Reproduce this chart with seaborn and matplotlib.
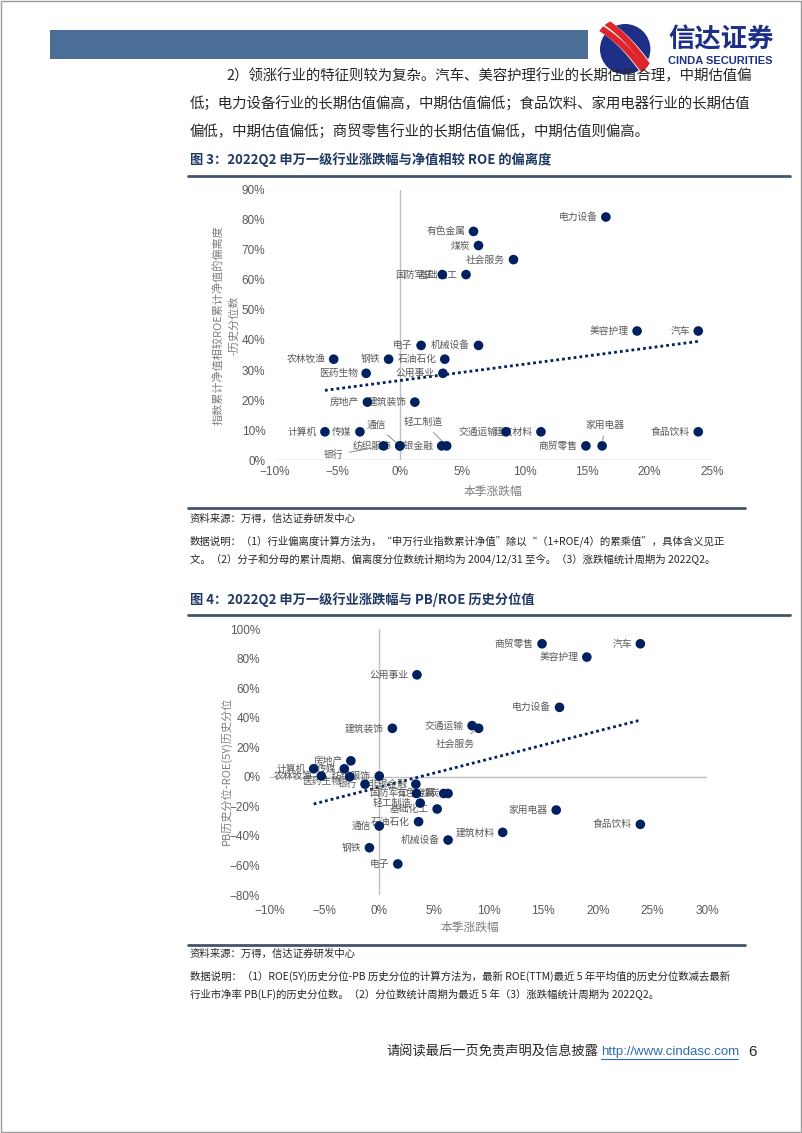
import numpy as np
import pandas as pd
import matplotlib
matplotlib.use("Agg")
import matplotlib.pyplot as plt
from matplotlib.patches import Rectangle, Circle
from matplotlib.ticker import FuncFormatter, MultipleLocator
import seaborn as sns

# industries (SW level-1) and values, in %
industries = ["电力设备", "有色金属", "煤炭", "社会服务", "国防军工", "基础化工",
              "美容护理", "汽车", "电子", "机械设备", "农林牧渔", "钢铁",
              "石油石化", "医药生物", "公用事业", "房地产", "建筑装饰", "计算机",
              "传媒", "交通运输", "建筑材料", "食品饮料", "纺织服饰", "通信",
              "银行", "非银金融", "轻工制造", "商贸零售", "家用电器"]
# 本季涨跌幅 (shared x of both charts)
ret = [16.5, 5.9, 6.3, 9.1, 3.4, 5.3,
       19.0, 23.9, 1.7, 6.3, -5.3, -0.9,
       3.6, -2.7, 3.45, -2.6, 1.2, -6.0,
       -3.2, 8.5, 11.3, 23.9, 0.0, 0.0,
       -1.3, 3.35, 3.75, 14.9, 16.2]
# 图3: 净值相较ROE的偏离度历史分位数
deviation = [81.0, 76.2, 71.5, 66.8, 61.8, 61.8,
             43.0, 43.0, 38.2, 38.2, 33.6, 33.6,
             33.6, 28.9, 28.9, 19.3, 19.3, 9.4,
             9.4, 9.4, 9.4, 9.4, 4.7, 4.7,
             4.7, 4.7, 4.7, 4.7, 4.7]
# 图4: PB历史分位-ROE(5Y)历史分位
pb_roe = [47.0, -11.3, -11.3, 32.8, -11.3, -21.8,
          81.0, 90.0, -59.0, -42.8, 0.5, -48.0,
          -30.4, 0.0, 69.0, 10.8, 32.8, 5.4,
          5.4, 34.6, -37.6, -32.2, 0.5, -33.3,
          -5.0, -5.0, -17.8, 90.0, -22.5]

df = pd.DataFrame({"name": industries, "ret": ret, "dev": deviation, "pbroe": pb_roe})

# labels that are not simply placed left of their marker (data coords)
moved1 = {"通信": (-1.9, 11.7), "轻工制造": (1.9, 12.6), "银行": (-5.3, 1.6),
          "家用电器": (16.4, 11.7)}
moved2 = {"社会服务": (7.0, 22.5), "医药生物": (-5.3, -3.0)}

W, H = 802, 1133
NAVY = "#002060"
GRAY = "#595959"
CJK = ["Noto Sans CJK SC", "DejaVu Sans"]
LAT = ["Liberation Sans", "Noto Sans CJK SC"]

sns.set_style("white")
plt.rcParams["font.family"] = CJK
plt.rcParams["axes.unicode_minus"] = True

fig = plt.figure(figsize=(W / 100, H / 100), dpi=100)


def px_axes(l, t, r, b):
    return fig.add_axes([l / W, 1 - b / H, (r - l) / W, (b - t) / H])


def ftext(x, y, s, **kw):
    return fig.text(x / W, 1 - y / H, s, **kw)


def hline(x0, x1, y, color="#44546A", lw=2.0):
    fig.add_artist(plt.Line2D([x0 / W, x1 / W], [1 - y / H, 1 - y / H],
                              color=color, lw=lw, transform=fig.transFigure))


# page frame
fig.add_artist(Rectangle((0.001, 0.001), 0.998, 0.998, transform=fig.transFigure,
                         fill=False, ec="#9A9A9A", lw=1))

# header bar + logo
fig.add_artist(Rectangle((50 / W, 1 - 59 / H), (588 - 50) / W, 29 / H,
                         transform=fig.transFigure, fc="#4B6E96", ec="none"))
lax = px_axes(594, 18, 654, 78)
lax.set_xlim(0, 1)
lax.set_ylim(0, 1)
lax.axis("off")
lax.add_patch(Circle((0.52, 0.48), 0.42, fc="#1D2F86", ec="none"))
clip = Circle((0.5, 0.5), 0.5, transform=lax.transData)
t = np.linspace(0, 1, 60)
for off, col, w in [(0.0, "white", 10), (-0.08, "#E0242B", 4.5), (0.08, "#E0242B", 4.5)]:
    xs = 0.05 + 0.9 * t
    ys = 0.95 - 0.9 * t + 0.1 * np.sin(np.pi * t) + off
    ln, = lax.plot(xs, ys, color=col, lw=w, solid_capstyle="butt")
    ln.set_clip_path(clip)
ftext(668, 40, "信达证券", fontsize=19, fontweight="bold", color="#1D2F86",
      va="center", ha="left")
ftext(668, 61, "CINDA SECURITIES", fontsize=8, fontweight="bold", color="#1D2F86",
      va="center", ha="left", family=LAT)

# body paragraph
para = ["2）领涨行业的特征则较为复杂。汽车、美容护理行业的长期估值合理，中期估值偏",
        "低；电力设备行业的长期估值偏高，中期估值偏低；食品饮料、家用电器行业的长期估值",
        "偏低，中期估值偏低；商贸零售行业的长期估值偏低，中期估值则偏高。"]
ftext(226, 76, para[0], fontsize=10.4, va="center")
ftext(190, 104, para[1], fontsize=10.4, va="center")
ftext(190, 132, para[2], fontsize=10.4, va="center")


def pct(v, pos):
    return f"{v:.0f}%".replace("-", "\u2212")


def draw_panel(ax, ycol, moved):
    sns.scatterplot(data=df, x="ret", y=ycol, ax=ax, color=NAVY, s=48,
                    edgecolor="none", zorder=3, legend=False)
    sns.regplot(data=df, x="ret", y=ycol, ax=ax, scatter=False, ci=None,
                line_kws=dict(color=NAVY, lw=2, ls=(0, (1, 1.1))))
    for _, r in df.iterrows():
        if r["name"] in moved:
            ax.annotate(r["name"], xy=(r["ret"], r[ycol]), xytext=moved[r["name"]],
                        textcoords="data", ha="center", va="center", fontsize=7,
                        color=GRAY, zorder=2,
                        arrowprops=dict(arrowstyle="-", color="#8C8C8C", lw=0.7,
                                        shrinkA=2, shrinkB=4))
        else:
            ax.annotate(r["name"], xy=(r["ret"], r[ycol]), xytext=(-6, 0),
                        textcoords="offset points", ha="right", va="center",
                        fontsize=7, color=GRAY, zorder=2)
    ax.set_xlabel("")
    ax.set_ylabel("")
    ax.xaxis.set_major_locator(MultipleLocator(5))
    ax.xaxis.set_major_formatter(FuncFormatter(pct))
    ax.yaxis.set_major_formatter(FuncFormatter(pct))
    ax.tick_params(length=0, labelsize=8.5, labelcolor=GRAY)
    for lab in ax.get_xticklabels() + ax.get_yticklabels():
        lab.set_family(LAT)
    for s in ax.spines.values():
        s.set_visible(False)
    ax.axvline(0, color="#BFBFBF", lw=1, zorder=1)
    ax.set_facecolor("none")


# ---- figure 3
ftext(190, 160, "图 3：2022Q2 申万一级行业涨跌幅与净值相较 ROE 的偏离度",
      fontsize=9.5, fontweight="bold", color="#1F3864", va="center")
hline(188, 790, 176)
ax1 = px_axes(275, 190, 712, 460)
draw_panel(ax1, "dev", moved1)
ax1.set_xlim(-10, 25)
ax1.set_ylim(0, 90)
ax1.yaxis.set_major_locator(MultipleLocator(10))
ax1.axhline(0, color="#BFBFBF", lw=1, zorder=1)
ax1.tick_params(axis="y", pad=7)
ax1.tick_params(axis="x", pad=4)
ftext(226, 325, "指数累计净值相较ROE累计净值的偏离度\n-历史分位数", rotation=90,
      fontsize=8, color="#7F7F7F", ha="center", va="center", multialignment="center",
      linespacing=1.6)
ftext(493, 491, "本季涨跌幅", fontsize=8.5, color="#7F7F7F", ha="center", va="center")
hline(188, 745, 508, lw=2)
ftext(190, 519, "资料来源：万得，信达证券研发中心", fontsize=7.5, color="#262626", va="center")
ftext(190, 541, "数据说明：（1）行业偏离度计算方法为，“申万行业指数累计净值”除以“（1+ROE/4）的累乘值”，具体含义见正",
      fontsize=7.5, color="#262626", va="center")
ftext(190, 559, "文。（2）分子和分母的累计周期、偏离度分位数统计期均为 2004/12/31 至今。（3）涨跌幅统计周期为 2022Q2。",
      fontsize=7.5, color="#262626", va="center")

# ---- figure 4
ftext(190, 600, "图 4：2022Q2 申万一级行业涨跌幅与 PB/ROE 历史分位值",
      fontsize=9.5, fontweight="bold", color="#1F3864", va="center")
hline(188, 790, 615)
ax2 = px_axes(270, 629, 707, 895)
draw_panel(ax2, "pbroe", moved2)
ax2.set_xlim(-10, 30)
ax2.set_ylim(-80, 100)
ax2.yaxis.set_major_locator(MultipleLocator(20))
ax2.axhline(0, color="#BFBFBF", lw=1, zorder=1)
ax2.tick_params(axis="y", pad=7)
ax2.tick_params(axis="x", pad=7)
ftext(226, 771, "PB历史分位-ROE(5Y)历史分位", rotation=90, fontsize=8, color="#7F7F7F",
      ha="center", va="center")
ftext(470, 927, "本季涨跌幅", fontsize=8.5, color="#7F7F7F", ha="center", va="center")
hline(188, 745, 945, lw=2)
ftext(190, 954, "资料来源：万得，信达证券研发中心", fontsize=7.5, color="#262626", va="center")
ftext(190, 976, "数据说明：（1）ROE(5Y)历史分位-PB 历史分位的计算方法为，最新 ROE(TTM)最近 5 年平均值的历史分位数减去最新",
      fontsize=7.5, color="#262626", va="center")
ftext(190, 994, "行业市净率 PB(LF)的历史分位数。（2）分位数统计周期为最近 5 年（3）涨跌幅统计周期为 2022Q2。",
      fontsize=7.5, color="#262626", va="center")

# footer
ftext(598, 1052, "请阅读最后一页免责声明及信息披露", fontsize=9.5, color="#262626",
      ha="right", va="center")
ftext(601, 1052, "http://www.cindasc.com", fontsize=9.5, color="#2E6DB4", ha="left",
      va="center", family=LAT)
hline(601, 738, 1059, color="#2E6DB4", lw=0.8)
ftext(748, 1052, "6", fontsize=11, color="#262626", ha="left", va="center", family=LAT)

fig.savefig("out.png", dpi=100)
